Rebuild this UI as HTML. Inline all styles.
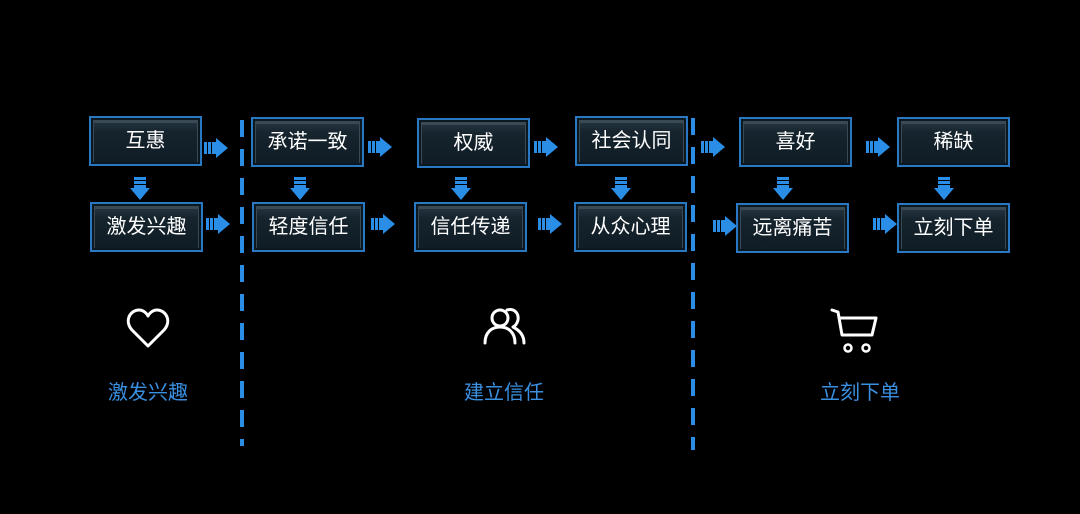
<!DOCTYPE html>
<html><head><meta charset="utf-8"><style>
body{margin:0;width:1080px;height:514px;background:#000;position:relative;overflow:hidden;font-family:"Liberation Sans","Noto Sans CJK SC",sans-serif}
.b{position:absolute;width:109px;height:46px;border:2px solid #2b78c2;box-sizing:content-box;background:linear-gradient(#2a3a46,#16242e 30%,#0f1c25);box-shadow:inset 0 0 0 2px #0c1820,inset 0 2px 0 3px #3a4a55;color:#fff;font-size:20px;line-height:46px;text-align:center}
.d{position:absolute;width:4px;background:repeating-linear-gradient(#2a8ee6 0 17px,transparent 17px 29px)}
svg.a{position:absolute}
.l{position:absolute;color:#3a8fe0;font-size:20px;width:120px;text-align:center}
</style></head><body>
<div class="b" style="left:89px;top:116px">互惠</div>
<div class="b" style="left:251px;top:117px">承诺一致</div>
<div class="b" style="left:417px;top:118px">权威</div>
<div class="b" style="left:575px;top:116px">社会认同</div>
<div class="b" style="left:739px;top:117px">喜好</div>
<div class="b" style="left:897px;top:117px">稀缺</div>
<div class="b" style="left:90px;top:202px">激发兴趣</div>
<div class="b" style="left:252px;top:202px">轻度信任</div>
<div class="b" style="left:414px;top:202px">信任传递</div>
<div class="b" style="left:574px;top:202px">从众心理</div>
<div class="b" style="left:736px;top:203px">远离痛苦</div>
<div class="b" style="left:897px;top:203px">立刻下单</div>
<div class="d" style="left:240px;top:120px;height:326px"></div>
<div class="d" style="left:691px;top:118px;height:332px"></div>
<svg width="1080" height="514" style="position:absolute;left:0;top:0">
<defs>
<g id="r" fill="#2a8ee6"><rect x="0" y="-6" width="3" height="12"/><rect x="4" y="-6" width="3" height="12"/><rect x="8" y="-6" width="4" height="12"/><polygon points="12,-10 24,0 12,10"/></g>
<g id="dn" fill="#2a8ee6"><rect x="-6" y="0" width="12" height="3"/><rect x="-6" y="4" width="12" height="3"/><rect x="-6" y="8" width="12" height="3"/><polygon points="-10,11 10,11 0,23"/></g>
</defs>
<use href="#r" x="204" y="148"/><use href="#r" x="206" y="224"/>
<use href="#r" x="368" y="147"/><use href="#r" x="371" y="224"/>
<use href="#r" x="534" y="147"/><use href="#r" x="538" y="224"/>
<use href="#r" x="701" y="147"/><use href="#r" x="713" y="226"/>
<use href="#r" x="866" y="147"/><use href="#r" x="873" y="224"/>
<use href="#dn" x="140" y="177"/><use href="#dn" x="300" y="177"/><use href="#dn" x="461" y="177"/><use href="#dn" x="621" y="177"/><use href="#dn" x="783" y="177"/><use href="#dn" x="944" y="177"/>
<g fill="none" stroke="#fff" stroke-width="3" stroke-linecap="round" stroke-linejoin="round">
<path d="M148 346 L132 330 C124 321 130 310 139 310 C144 310 147 314 148 316 C149 314 152 310 157 310 C166 310 172 321 164 330 Z"/>
<circle cx="500" cy="318" r="8"/><path d="M485 343 C485 332 492 327 500 327 C508 327 515 332 515 343"/>
<path d="M507 310 C514 308 519 313 518 320 C517 324 515 326 513 327 C519 330 524 335 524 343"/>
<path d="M832 310 L838 312 L842 335 L872 335 L876 318 L840 318"/>
</g>
<g fill="none" stroke="#fff" stroke-width="2.5"><circle cx="848" cy="348" r="3.5"/><circle cx="866" cy="348" r="3.5"/></g>
</svg>
<div class="l" style="left:88px;top:376px">激发兴趣</div>
<div class="l" style="left:444px;top:376px">建立信任</div>
<div class="l" style="left:800px;top:376px">立刻下单</div>
</body></html>
